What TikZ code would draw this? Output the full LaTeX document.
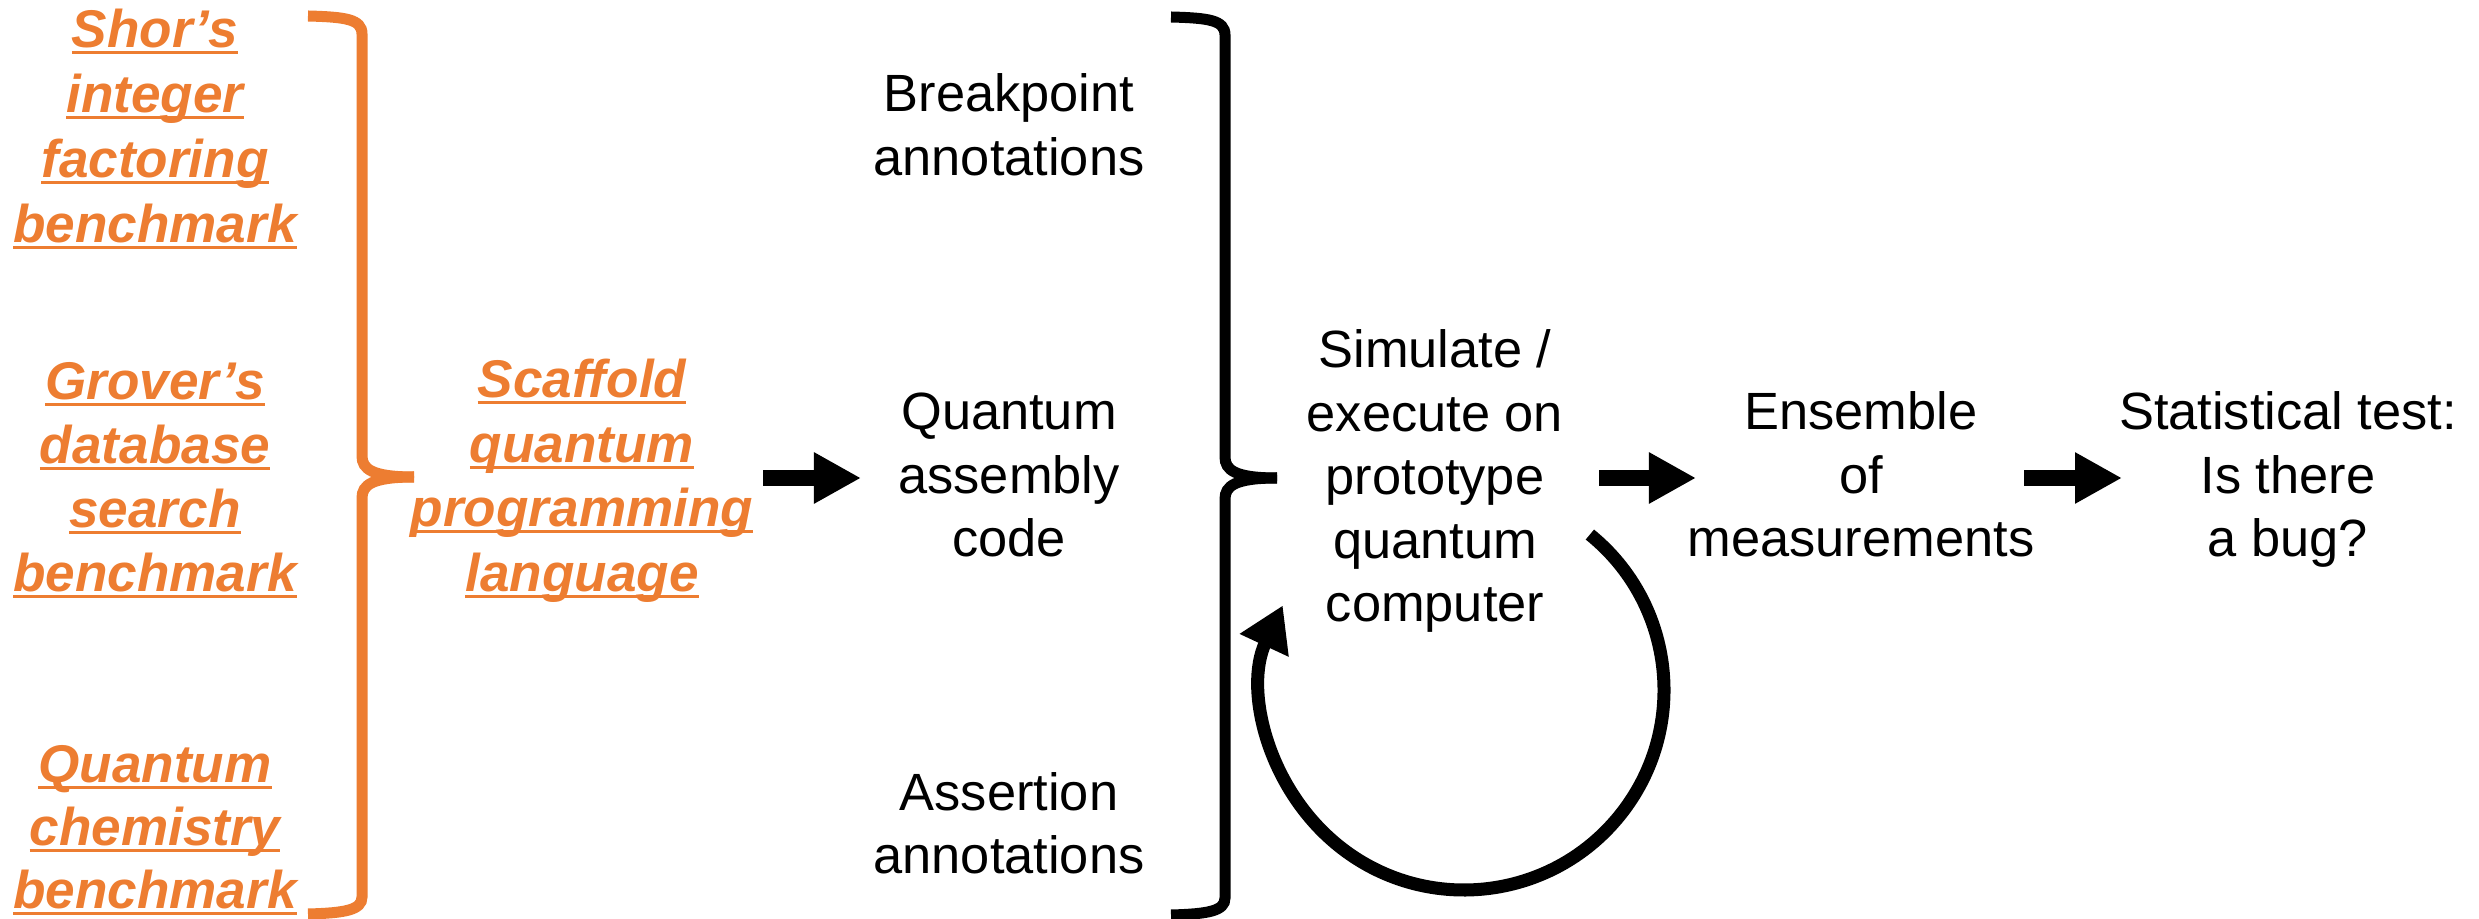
\documentclass[tikz,border=0pt]{standalone}
\usepackage{fontspec}
\setmainfont{Liberation Sans}
\usetikzlibrary{arrows.meta}
\definecolor{scafforange}{RGB}{237,125,49}

% one drawing unit = one pixel of the final image
\newdimen\pxu \pxu=0.01cm

% centred rows with a fixed baseline distance; the box sits on its first baseline
\newcommand\textrows[2]{\vtop{\baselineskip=#1\lineskiplimit=-\maxdimen\lineskip=0pt
  \let\\\cr\halign{\hfil##\hfil\cr#2\crcr}}}
% underline spanning the advance width of one word
\newcommand\ul[1]{\setbox0=\hbox{#1}\rlap{\rule[-6.5\pxu]{\wd0}{3\pxu}}\box0}

\tikzset{
  bench/.style={anchor=base, inner sep=0pt, text=scafforange,
    font=\fontsize{15.1pt}{18pt}\selectfont\bfseries\itshape},
  plaintext/.style={anchor=base, inner sep=0pt, text=black,
    font=\fontsize{14.9pt}{18pt}\selectfont},
  blockarrow/.style={draw=black, line width=0.16cm,
    -{Triangle[length=0.47cm,width=0.48cm]}},
  looparrow/.style={draw=black, line width=0.13cm,
    -{Triangle[length=0.44cm,width=0.51cm]}},
  brace/.pic={
    \draw (308,16) .. controls (345,17) and (362,19) .. (362,34) -- (362,456)
      .. controls (362,469) and (372,477) .. (414,477);
    \draw (414,477) .. controls (372,477) and (362,485) .. (362,498) -- (362,897)
      .. controls (362,910) and (345,913) .. (308,914);
  }
}

\begin{document}
\begin{tikzpicture}[x=0.01cm, y=-0.01cm]
\useasboundingbox (0,0) rectangle (2479,919);

% benchmarks feeding the Scaffold compiler
\node[bench] (shor) at (155,48)
  {\textrows{64.7\pxu}{\ul{Shor’s}\\\ul{integer}\\\ul{factoring}\\\ul{benchmark}}};
\node[bench] (grover) at (155,400)
  {\textrows{63.7\pxu}{\ul{Grover’s}\\\ul{database}\\\ul{search}\\\ul{benchmark}}};
\node[bench] (chem) at (155,782)
  {\textrows{63\pxu}{\ul{Quantum}\\\ul{chemistry}\\\ul{benchmark}}};
\pic[color=scafforange, line width=0.11cm] at (0,0) {brace};

\node[bench] (scaffold) at (582,398)
  {\textrows{64.5\pxu}{\ul{Scaffold}\\\ul{quantum}\\\ul{programming}\\\ul{language}}};

% compiled code plus annotations
\node[plaintext] (bp) at (1009,112) {\textrows{63.5\pxu}{Breakpoint\\annotations}};
\node[plaintext] (qasm) at (1009,430) {\textrows{63.5\pxu}{Quantum\\assembly\\code}};
\node[plaintext] (assert) at (1009,810) {\textrows{63.5\pxu}{Assertion\\annotations}};
\pic[color=black, line width=0.11cm] at (863,1) {brace};

% execution and analysis
\node[plaintext] (sim) at (1435,368)
  {\textrows{63.5\pxu}{Simulate /\\execute on\\prototype\\quantum\\computer}};
\node[plaintext] (ens) at (1861,430) {\textrows{63.5\pxu}{Ensemble\\of\\measurements}};
\node[plaintext] (stat) at (2288,430) {\textrows{63.5\pxu}{Statistical test:\\Is there\\a bug?}};

% arrow end points between the stages
\coordinate (a1s) at (763,478);  \coordinate (a1e) at (861,478);
\coordinate (a2s) at (1599,478); \coordinate (a2e) at (1696,478);
\coordinate (a3s) at (2024,478); \coordinate (a3e) at (2122,478);
\draw[blockarrow] (a1s) -- (a1e);
\draw[blockarrow] (a2s) -- (a2e);
\draw[blockarrow] (a3s) -- (a3e);

% repeated runs: loop back into the simulation step
\coordinate (loopc) at (1464,690);
\draw[looparrow] ([shift={(-51:200)}]loopc) arc[start angle=-51, end angle=205, radius=200];
\end{tikzpicture}
\end{document}
